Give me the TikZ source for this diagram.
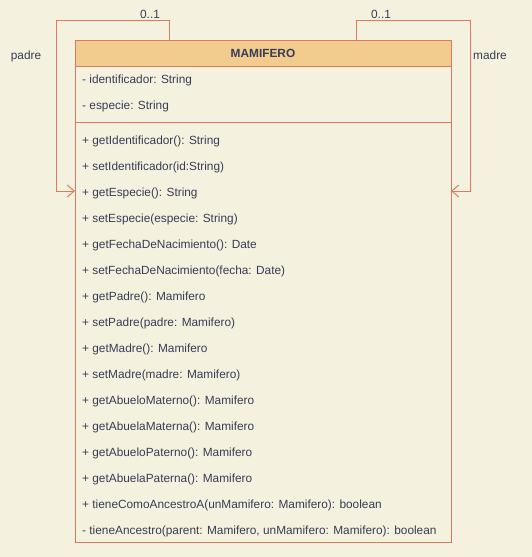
\documentclass[tikz,border=0pt]{standalone}
\usepackage{fontspec}
\setmainfont{Liberation Sans}
\usetikzlibrary{arrows.meta}
\definecolor{bgc}{HTML}{F4F1DE}
\definecolor{strokec}{HTML}{E07A5F}
\definecolor{headc}{HTML}{F2CC8F}
\definecolor{fontc}{HTML}{393C56}
\tikzset{
  member/.style={anchor=base west, inner sep=0pt, text=fontc, font=\fontsize{11.85}{14}\selectfont},
  lbl/.style={anchor=base, inner sep=0pt, text=fontc, font=\fontsize{11.85}{14}\selectfont},
  conn/.style={draw=strokec, line width=1pt, -{Straight Barb[length=7pt,width=12pt]}},
  boxline/.style={draw=strokec, line width=1pt}
}
\begin{document}
\begin{tikzpicture}[x=1pt,y=-1pt]
\useasboundingbox[fill=bgc] (0,0) rectangle (532,557);
% class box
\node[boxline, fill=bgc, minimum width=376pt, minimum height=502pt, inner sep=0pt, anchor=north west] (cls) at (75,40) {};
\node[boxline, fill=headc, minimum width=376pt, minimum height=26pt, inner sep=0pt, anchor=north west] (head) at (75,40) {};
\node[anchor=base, inner sep=0pt, text=fontc, font=\bfseries\fontsize{11.85}{14}\selectfont] (title) at (263,57.5) {MAMIFERO};
\draw[boxline] (75,122) coordinate (divL) -- (451,122) coordinate (divR);
% attributes
\node[member] (a1) at (82,83.5) {- identificador: String};
\node[member] (a2) at (82,109.5) {- especie: String};
% methods
\node[member] (m1) at (82,144.5) {+ getIdentificador(): String};
\node[member] (m2) at (82,170.5) {+ setIdentificador(id:String)};
\node[member] (m3) at (82,196.5) {+ getEspecie(): String};
\node[member] (m4) at (82,222.5) {+ setEspecie(especie: String)};
\node[member] (m5) at (82,248.5) {+ getFechaDeNacimiento(): Date};
\node[member] (m6) at (82,274.5) {+ setFechaDeNacimiento(fecha: Date)};
\node[member] (m7) at (82,300.5) {+ getPadre(): Mamifero};
\node[member] (m8) at (82,326.5) {+ setPadre(padre: Mamifero)};
\node[member] (m9) at (82,352.5) {+ getMadre(): Mamifero};
\node[member] (m10) at (82,378.5) {+ setMadre(madre: Mamifero)};
\node[member] (m11) at (82,404.5) {+ getAbueloMaterno(): Mamifero};
\node[member] (m12) at (82,430.5) {+ getAbuelaMaterna(): Mamifero};
\node[member] (m13) at (82,456.5) {+ getAbueloPaterno(): Mamifero};
\node[member] (m14) at (82,482.5) {+ getAbuelaPaterna(): Mamifero};
\node[member] (m15) at (82,508.5) {+ tieneComoAncestroA(unMamifero: Mamifero): boolean};
\node[member] (m16) at (82,534.5) {- tieneAncestro(parent: Mamifero, unMamifero: Mamifero): boolean};
% self associations
\coordinate (pStart) at (169,40);
\coordinate (pEnd) at (75,191);
\coordinate (mStart) at (356,40);
\coordinate (mEnd) at (451,191);
\draw[conn] (pStart) -- (169,20) -- (56,20) -- (56,191) -- (pEnd);
\draw[conn] (mStart) -- (356,20) -- (470,20) -- (470,191) -- (mEnd);
\node[lbl] (pm) at (150,18) {0..1};
\node[lbl] (mm) at (381,18) {0..1};
\node[lbl] (pl) at (26,59.5) {padre};
\node[lbl] (ml) at (490,59.5) {madre};
\end{tikzpicture}
\end{document}
